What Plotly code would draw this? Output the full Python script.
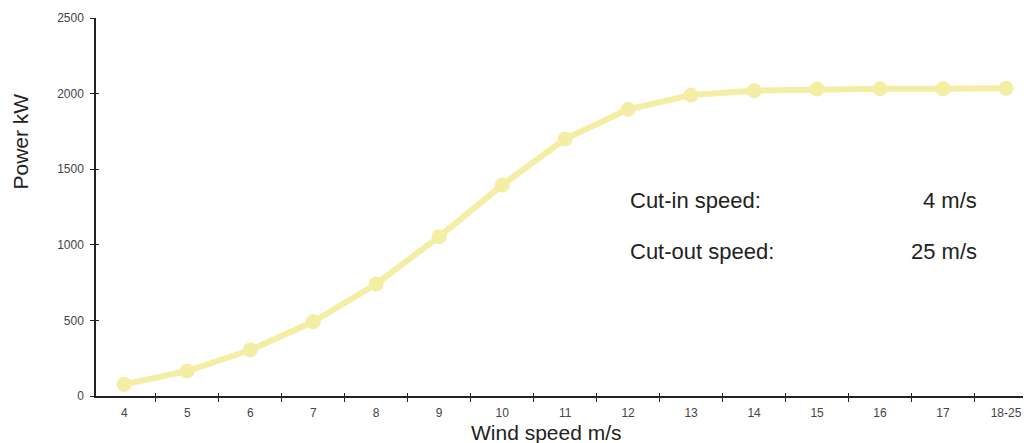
import plotly.graph_objects as go

categories = ["4", "5", "6", "7", "8", "9", "10", "11", "12", "13", "14", "15", "16", "17", "18-25"]
power_kw = [77, 165, 304, 491, 741, 1054, 1395, 1700, 1896, 1991, 2019, 2030, 2032, 2032, 2035]
y_ticks = [0, 500, 1000, 1500, 2000, 2500]

line_color = "#F4EDA4"
axis_color = "#222222"
tick_font = dict(family="Liberation Sans, Arial, sans-serif", size=12, color="#444444")
title_font = dict(family="Liberation Sans, Arial, sans-serif", size=21, color="#222222")
text_font = dict(family="Liberation Sans, Arial, sans-serif", size=22, color="#222222")

# page body has an 8px margin; figure is sized/offset to compensate
OFF = 8
W, H = 1031 - OFF, 443 - OFF
L, T, B = 96 - OFF, 18 - OFF, 47
PW, PH = W - L, H - T - B


def px(x):
    return (x - 96) / PW


def py(y):
    return (396 - y) / PH


fig = go.Figure()
fig.add_trace(go.Scatter(x=categories, y=power_kw, mode="lines",
                         line=dict(color=line_color, width=6),
                         xaxis="x", yaxis="y", hoverinfo="skip", showlegend=False))
fig.add_trace(go.Scatter(x=categories, y=power_kw, mode="markers",
                         marker=dict(color=line_color, size=15),
                         xaxis="x2", yaxis="y2", showlegend=False))

xr = [-0.449, 14.397]
yr = [0, 2500]
common_x = dict(type="category", range=xr, tickson="boundaries", showgrid=False, zeroline=False)
common_y = dict(range=yr, tickvals=y_ticks, showgrid=False, zeroline=False)

fig.update_layout(
    width=W, height=H,
    margin=dict(l=L, r=0, t=T, b=B),
    paper_bgcolor="white", plot_bgcolor="white",
    xaxis=dict(**common_x, showline=True, linecolor=axis_color, linewidth=1.5,
               ticks="outside", ticklen=4, tickwidth=1.2, tickcolor=axis_color,
               tickfont=tick_font, ticklabelstandoff=5, anchor="y"),
    yaxis=dict(**common_y, showline=True, linecolor=axis_color, linewidth=1.5,
               ticks="outside", ticklen=4, tickwidth=1.2, tickcolor=axis_color,
               tickfont=tick_font, ticklabelstandoff=4, anchor="x"),
    xaxis2=dict(**common_x, overlaying="x", matches="x", anchor="y2", showline=False,
                ticks="inside", ticklen=3, tickwidth=1.2, tickcolor=axis_color,
                showticklabels=False),
    yaxis2=dict(**common_y, overlaying="y", matches="y", anchor="x2", showline=False,
                ticks="inside", ticklen=3, tickwidth=1.2, tickcolor=axis_color,
                showticklabels=False),
    annotations=[
        dict(text="Wind speed m/s", xref="paper", yref="paper", x=px(546), y=0,
             yshift=-36, xanchor="center", yanchor="middle", showarrow=False, font=title_font),
        dict(text="Power kW", xref="paper", yref="paper", x=0, y=py(141.5),
             xshift=-76, xanchor="center", yanchor="middle", textangle=-90,
             showarrow=False, font=title_font),
        dict(text="Cut-in speed:", xref="paper", yref="paper", x=px(628),
             y=py(200), xanchor="left", yanchor="middle", showarrow=False,
             font=text_font),
        dict(text="4 m/s", xref="paper", yref="paper", x=px(979),
             y=py(200), xanchor="right", yanchor="middle", showarrow=False,
             font=text_font),
        dict(text="Cut-out speed:", xref="paper", yref="paper", x=px(628),
             y=py(251), xanchor="left", yanchor="middle", showarrow=False,
             font=text_font),
        dict(text="25 m/s", xref="paper", yref="paper", x=px(979),
             y=py(251), xanchor="right", yanchor="middle", showarrow=False,
             font=text_font),
    ],
)

fig.write_html("out.html")
